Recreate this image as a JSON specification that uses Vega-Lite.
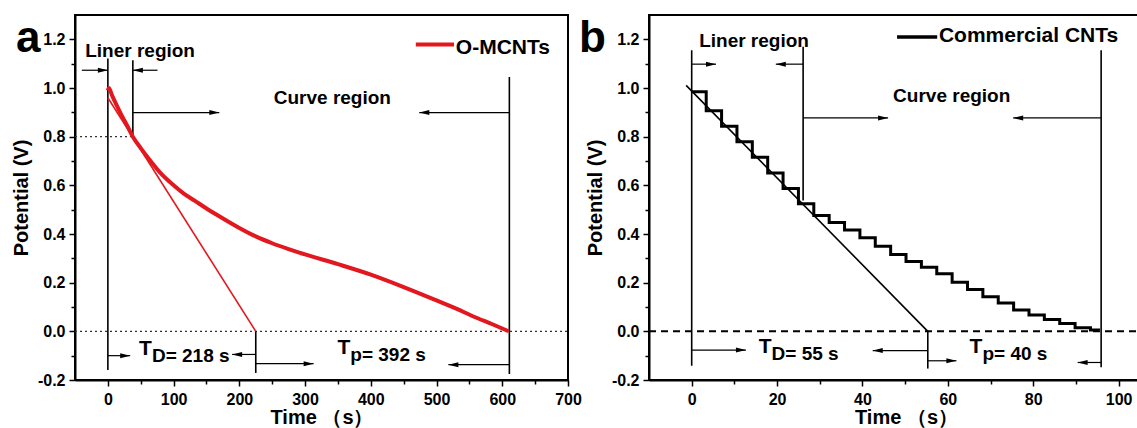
{
  "$schema": "https://vega.github.io/schema/vega-lite/v6.json",
  "background": "white",
  "padding": {"left": 10, "top": 14, "right": 0, "bottom": 0},
  "spacing": 81,
  "bounds": "flush",
  "config": {
    "font": "Liberation Sans",
    "view": {"stroke": "black", "strokeWidth": 2},
    "axis": {"grid": false, "domainColor": "black", "domainWidth": 2, "tickColor": "black", "tickWidth": 1.5,
      "labelFont": "Liberation Sans", "labelFontWeight": "bold", "labelFontSize": 16, "labelColor": "black",
      "titleFont": "Liberation Sans", "titleFontWeight": "bold", "titleFontSize": 20, "titleColor": "black",
      "labelOverlap": false, "labelFlush": false},
    "axisX": {"labelPadding": 5, "titlePadding": 0},
    "axisY": {"labelPadding": 4, "titlePadding": 6}
  },
  "datasets": {
    "a_curve": [{"t":0,"v":0.99},{"t":1.5,"v":1.0},{"t":6,"v":0.972},{"t":12,"v":0.937},{"t":20,"v":0.893},{"t":30,"v":0.842},{"t":38,"v":0.8},{"t":50,"v":0.753},{"t":65,"v":0.7},{"t":81,"v":0.648},{"t":100,"v":0.6},{"t":115,"v":0.567},{"t":132,"v":0.537},{"t":150,"v":0.505},{"t":172,"v":0.469},{"t":200,"v":0.425},{"t":225,"v":0.39},{"t":250,"v":0.362},{"t":275,"v":0.338},{"t":300,"v":0.316},{"t":350,"v":0.276},{"t":400,"v":0.233},{"t":450,"v":0.182},{"t":500,"v":0.127},{"t":530,"v":0.093},{"t":557,"v":0.06},{"t":585,"v":0.029},{"t":610,"v":0.0}],
    "a_tan": [{"t":0,"v":0.96},{"t":225,"v":0}],
    "a_vl": [{"t":0,"v":-0.159,"v2":1.121},{"t":38,"v":0.8,"v2":1.114},{"t":225,"v":-0.171,"v2":0},{"t":610.8,"v":-0.175,"v2":1.045}],
    "a_dot": [{"t":-50,"t2":38,"v":0.8},{"t":-50,"t2":700,"v":0}],
    "a_arrow": [{"t":0,"t2":-39.6,"v":1.073,"dir":"right"},{"t":38,"t2":75.5,"v":1.073,"dir":"left"},{"t":169.5,"t2":38,"v":0.899,"dir":"right"},{"t":473.8,"t2":610.8,"v":0.899,"dir":"left"},{"t":34,"t2":0,"v":-0.1,"dir":"right"},{"t":189,"t2":225,"v":-0.095,"dir":"left"},{"t":313,"t2":225,"v":-0.133,"dir":"right"},{"t":518,"t2":610.8,"v":-0.137,"dir":"left"}],
    "a_region": [{"t":49,"v":1.126,"label":"Liner region"},{"t":341.5,"v":0.933,"label":"Curve region"}],
    "a_legline": [{"t":468.5,"t2":526.6,"v":1.179}],
    "a_legtext": [{"t":529.4,"v":1.14,"label":"O-MCNTs"}],
    "a_T": [{"t":67,"v":-0.125,"label":"D= 218 s"},{"t":368.8,"v":-0.12,"label":"p= 392 s"}],
    "a_tag": [{"t":-50,"v":1.147,"label":"a"}],
    "b_curve": [{"t":0,"v":0.985},{"t":3.4,"v":0.907},{"t":7.0,"v":0.843},{"t":10.6,"v":0.779},{"t":14.2,"v":0.715},{"t":17.8,"v":0.651},{"t":21.4,"v":0.587},{"t":25.0,"v":0.524},{"t":28.6,"v":0.476},{"t":32.2,"v":0.447},{"t":35.8,"v":0.416},{"t":39.4,"v":0.385},{"t":43.0,"v":0.35},{"t":46.6,"v":0.316},{"t":50.2,"v":0.287},{"t":53.8,"v":0.263},{"t":57.4,"v":0.237},{"t":61.0,"v":0.202},{"t":64.6,"v":0.172},{"t":68.2,"v":0.142},{"t":71.8,"v":0.116},{"t":75.4,"v":0.088},{"t":79.0,"v":0.067},{"t":82.6,"v":0.049},{"t":86.2,"v":0.032},{"t":89.8,"v":0.015},{"t":93.4,"v":0.005},{"t":95.3,"v":0.003}],
    "b_tan": [{"t":-1.3,"v":1.011},{"t":55.3,"v":0}],
    "b_vl": [{"t":0,"v":-0.141,"v2":1.155},{"t":26.1,"v":0.538,"v2":1.17},{"t":55.3,"v":-0.153,"v2":0},{"t":95.9,"v":-0.148,"v2":1.155}],
    "b_dash": [{"t":-10,"t2":104.3,"v":0}],
    "b_arrow": [{"t":5.7,"t2":0,"v":1.098,"dir":"right"},{"t":19.7,"t2":26.1,"v":1.098,"dir":"left"},{"t":46,"t2":26.1,"v":0.877,"dir":"right"},{"t":75.3,"t2":95.9,"v":0.877,"dir":"left"},{"t":12.7,"t2":0,"v":-0.077,"dir":"right"},{"t":42.4,"t2":55.3,"v":-0.079,"dir":"left"},{"t":62,"t2":55.3,"v":-0.121,"dir":"right"},{"t":90.4,"t2":95.9,"v":-0.128,"dir":"left"}],
    "b_region": [{"t":14.6,"v":1.17,"label":"Liner region"},{"t":60.9,"v":0.942,"label":"Curve region"}],
    "b_legline": [{"t":48.1,"t2":57.5,"v":1.21}],
    "b_legtext": [{"t":57.9,"v":1.19,"label":"Commercial CNTs"}],
    "b_T": [{"t":18.7,"v":-0.117,"label":"D= 55 s"},{"t":68.1,"v":-0.118,"label":"p= 40 s"}],
    "b_tag": [{"t":-10,"v":1.147,"label":"b"}]
  },
  "hconcat": [
    {
      "width": 493,
      "height": 365,
      "encoding": {
        "x": {"field": "t", "type": "quantitative", "scale": {"domain": [-50, 700], "nice": false, "zero": false},
          "axis": {"title": "Time （s）", "values": [0,50,100,150,200,250,300,350,400,450,500,550,600,650,700],
            "labelExpr": "datum.value % 100 == 0 ? datum.label : ''",
            "tickSize": {"condition": {"test": "datum.value % 100 != 0", "value": 4}, "value": 6}}},
        "y": {"field": "v", "type": "quantitative", "scale": {"domain": [-0.2, 1.3], "nice": false, "zero": false},
          "axis": {"title": "Potential (V)", "values": [-0.2,-0.1,0,0.1,0.2,0.3,0.4,0.5,0.6,0.7,0.8,0.9,1,1.1,1.2],
            "labelExpr": "round(datum.value*10) % 2 == 0 ? (datum.value < 0 ? '-' : '') + format(abs(datum.value), '.1f') : ''",
            "tickSize": {"condition": {"test": "round(datum.value*10) % 2 != 0", "value": 4}, "value": 6}}}
      },
      "layer": [
        {"data": {"name": "a_dot"}, "mark": {"type": "rule", "color": "#333333", "strokeWidth": 1.3, "strokeDash": [2, 3]},
         "encoding": {"x2": {"field": "t2"}}},
        {"data": {"name": "a_vl"}, "mark": {"type": "rule", "color": "black", "strokeWidth": 1.6},
         "encoding": {"y2": {"field": "v2"}}},
        {"data": {"name": "a_arrow"}, "mark": {"type": "rule", "color": "black", "strokeWidth": 1.2},
         "encoding": {"x2": {"field": "t2"}}},
        {"data": {"name": "a_arrow"}, "mark": {"type": "point", "filled": true, "color": "black", "opacity": 1, "size": 400},
         "encoding": {"shape": {"field": "dir", "type": "nominal", "legend": null,
           "scale": {"domain": ["right", "left"], "range": ["M0,0L-1,-0.25L-1,0.25Z", "M0,0L1,-0.25L1,0.25Z"]}}}},
        {"data": {"name": "a_tan"}, "mark": {"type": "line", "color": "#e3181f", "strokeWidth": 1.6}, "encoding": {}},
        {"data": {"name": "a_curve"}, "mark": {"type": "line", "color": "#e3181f", "strokeWidth": 4, "interpolate": "monotone"}, "encoding": {}},
        {"data": {"name": "a_legline"}, "mark": {"type": "rule", "color": "#e3181f", "strokeWidth": 4},
         "encoding": {"x2": {"field": "t2"}}},
        {"data": {"name": "a_legtext"}, "mark": {"type": "text", "align": "left", "baseline": "alphabetic", "font": "Liberation Sans", "fontWeight": "bold", "fontSize": 21, "color": "black"},
         "encoding": {"text": {"field": "label"}}},
        {"data": {"name": "a_region"}, "mark": {"type": "text", "align": "center", "baseline": "alphabetic", "font": "Liberation Sans", "fontWeight": "bold", "fontSize": 19, "color": "black"},
         "encoding": {"text": {"field": "label"}}},
        {"data": {"name": "a_T"}, "mark": {"type": "text", "text": "T", "align": "right", "baseline": "alphabetic", "dy": -7, "font": "Liberation Sans", "fontWeight": "bold", "fontSize": 21, "color": "black"},
         "encoding": {}},
        {"data": {"name": "a_T"}, "mark": {"type": "text", "align": "left", "baseline": "alphabetic", "font": "Liberation Sans", "fontWeight": "bold", "fontSize": 19, "color": "black"},
         "encoding": {"text": {"field": "label"}}},
        {"data": {"name": "a_tag"}, "mark": {"type": "text", "align": "left", "baseline": "alphabetic", "dx": -59, "font": "Liberation Sans", "fontWeight": "bold", "fontSize": 44, "color": "black"},
         "encoding": {"text": {"field": "label"}}}
      ]
    },
    {
      "width": 488,
      "height": 365,
      "view": {"stroke": "black", "strokeWidth": 2, "strokeDash": [488, 365, 3000]},
      "encoding": {
        "x": {"field": "t", "type": "quantitative", "scale": {"domain": [-10, 104.3], "nice": false, "zero": false},
          "axis": {"title": "Time （s）", "titleX": 257, "values": [0,10,20,30,40,50,60,70,80,90,100],
            "labelExpr": "datum.value % 20 == 0 ? datum.label : ''",
            "tickSize": {"condition": {"test": "datum.value % 20 != 0", "value": 4}, "value": 6}}},
        "y": {"field": "v", "type": "quantitative", "scale": {"domain": [-0.2, 1.3], "nice": false, "zero": false},
          "axis": {"title": "Potential (V)", "values": [-0.2,-0.1,0,0.1,0.2,0.3,0.4,0.5,0.6,0.7,0.8,0.9,1,1.1,1.2],
            "labelExpr": "round(datum.value*10) % 2 == 0 ? (datum.value < 0 ? '-' : '') + format(abs(datum.value), '.1f') : ''",
            "tickSize": {"condition": {"test": "round(datum.value*10) % 2 != 0", "value": 4}, "value": 6}}}
      },
      "layer": [
        {"data": {"name": "b_dash"}, "mark": {"type": "rule", "color": "black", "strokeWidth": 2, "strokeDash": [7, 5]},
         "encoding": {"x2": {"field": "t2"}}},
        {"data": {"name": "b_vl"}, "mark": {"type": "rule", "color": "black", "strokeWidth": 1.6},
         "encoding": {"y2": {"field": "v2"}}},
        {"data": {"name": "b_arrow"}, "mark": {"type": "rule", "color": "black", "strokeWidth": 1.2},
         "encoding": {"x2": {"field": "t2"}}},
        {"data": {"name": "b_arrow"}, "mark": {"type": "point", "filled": true, "color": "black", "opacity": 1, "size": 400},
         "encoding": {"shape": {"field": "dir", "type": "nominal", "legend": null,
           "scale": {"domain": ["right", "left"], "range": ["M0,0L-1,-0.25L-1,0.25Z", "M0,0L1,-0.25L1,0.25Z"]}}}},
        {"data": {"name": "b_tan"}, "mark": {"type": "line", "color": "black", "strokeWidth": 1.6}, "encoding": {}},
        {"data": {"name": "b_curve"}, "mark": {"type": "line", "color": "black", "strokeWidth": 3, "interpolate": "step-after"}, "encoding": {}},
        {"data": {"name": "b_legline"}, "mark": {"type": "rule", "color": "black", "strokeWidth": 3.5},
         "encoding": {"x2": {"field": "t2"}}},
        {"data": {"name": "b_legtext"}, "mark": {"type": "text", "align": "left", "baseline": "alphabetic", "font": "Liberation Sans", "fontWeight": "bold", "fontSize": 21, "color": "black"},
         "encoding": {"text": {"field": "label"}}},
        {"data": {"name": "b_region"}, "mark": {"type": "text", "align": "center", "baseline": "alphabetic", "font": "Liberation Sans", "fontWeight": "bold", "fontSize": 19, "color": "black"},
         "encoding": {"text": {"field": "label"}}},
        {"data": {"name": "b_T"}, "mark": {"type": "text", "text": "T", "align": "right", "baseline": "alphabetic", "dy": -7, "font": "Liberation Sans", "fontWeight": "bold", "fontSize": 21, "color": "black"},
         "encoding": {}},
        {"data": {"name": "b_T"}, "mark": {"type": "text", "align": "left", "baseline": "alphabetic", "font": "Liberation Sans", "fontWeight": "bold", "fontSize": 19, "color": "black"},
         "encoding": {"text": {"field": "label"}}},
        {"data": {"name": "b_tag"}, "mark": {"type": "text", "align": "left", "baseline": "alphabetic", "dx": -70, "font": "Liberation Sans", "fontWeight": "bold", "fontSize": 44, "color": "black"},
         "encoding": {"text": {"field": "label"}}}
      ]
    }
  ]
}
